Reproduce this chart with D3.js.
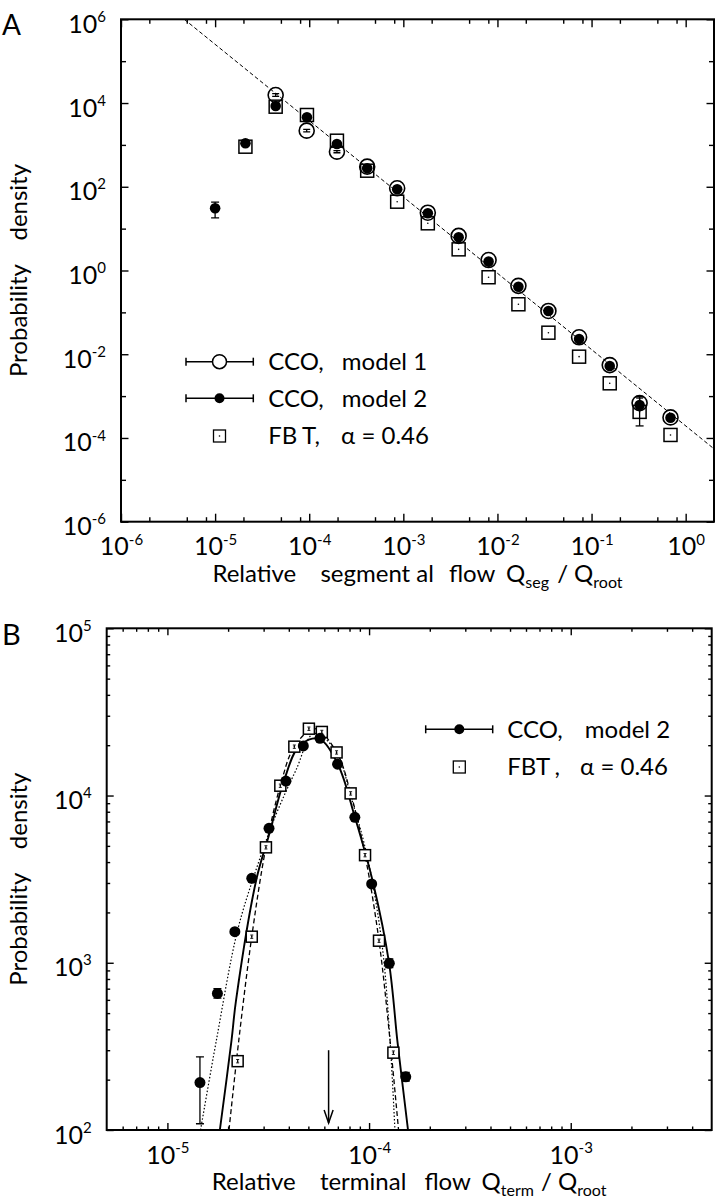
<!DOCTYPE html>
<html><head><meta charset="utf-8">
<script src="https://cdn.jsdelivr.net/npm/d3@7"></script>
<style>
body{margin:0;background:#fff}
svg{display:block;background:#fff}
text{font-family:Lato,"Open Sans",sans-serif;fill:#000}
</style>
</head><body>
<svg id="chart" width="716" height="1200"></svg>
<script>
// ================= DATA =================
// ---- Panel A : relative segmental flow ----
const segFlowM1   = [4.4e-5, 9.4e-5, 1.97e-4, 4.13e-4, 8.6e-4, 1.82e-3, 3.87e-3, 8.05e-3, 1.67e-2, 3.48e-2, 7.37e-2, 0.156, 0.324, 0.69];
const densSegM1   = [15560, 2190, 689, 302, 92, 24, 6.7, 1.78, 0.43, 0.108, 0.0254, 0.0055, 6.8e-4, 3.1e-4];
const errLoSegM1  = [14400, 2040, 650, 288, 88, 23, 6.4, 1.70, 0.41, 0.103, 0.0242, 0.0052, 5.0e-4, 2.9e-4];
const errHiSegM1  = [16800, 2340, 730, 316, 96, 25, 7.0, 1.86, 0.45, 0.113, 0.0266, 0.0058, 9.0e-4, 3.3e-4];

const segFlowM2   = [1.0e-5, 2.1e-5, 4.4e-5, 9.46e-5, 1.97e-4, 4.13e-4, 8.6e-4, 1.82e-3, 3.87e-3, 8.05e-3, 1.67e-2, 3.48e-2, 7.37e-2, 0.156, 0.324, 0.69];
const densSegM2   = [30.6, 1092, 8500, 4570, 1052, 276, 87, 23.3, 6.2, 1.63, 0.41, 0.108, 0.0231, 0.00525, 6.1e-4, 3.05e-4];
const errLoSegM2  = [18, 1000, 7800, 4200, 980, 262, 83, 22.2, 5.9, 1.55, 0.39, 0.102, 0.0218, 0.0047, 1.94e-4, 2.8e-4];
const errHiSegM2  = [43, 1190, 9300, 4950, 1130, 290, 91, 24.4, 6.5, 1.71, 0.43, 0.114, 0.0244, 0.0059, 9.7e-4, 3.3e-4];

const segFlowFBT  = [2.1e-5, 4.4e-5, 9.46e-5, 1.97e-4, 4.13e-4, 8.6e-4, 1.82e-3, 3.87e-3, 8.05e-3, 1.67e-2, 3.48e-2, 7.37e-2, 0.156, 0.324, 0.69];
const densSegFBT  = [906, 8180, 5180, 1260, 242, 44, 13.4, 3.2, 0.69, 0.156, 0.0327, 0.00875, 0.00202, 4.2e-4, 1.18e-4];

const fitSegX     = [4.7e-6, 2];
const fitSegY     = [1e6, 5.5e-5];

const xTicksA      = [1e-6, 1e-5, 1e-4, 1e-3, 1e-2, 1e-1, 1];
const xMinorTicksA = [2e-6,5e-6,8e-6, 2e-5,5e-5,8e-5, 2e-4,5e-4,8e-4, 2e-3,5e-3,8e-3, 2e-2,5e-2,8e-2, 0.2,0.5,0.8];
const yTicksA      = [1e-6, 1e-4, 1e-2, 1, 1e2, 1e4, 1e6];
const yMinorTicksA = [1e-5, 1e-3, 1e-1, 1e1, 1e3, 1e5];

// ---- Panel B : relative terminal flow ----
const termFlowM2  = [1.45e-5, 1.77e-5, 2.16e-5, 2.62e-5, 3.19e-5, 3.87e-5, 4.72e-5, 5.71e-5, 6.98e-5, 8.5e-5, 1.03e-4, 1.26e-4, 1.52e-4];
const densTermM2  = [192, 656, 1534, 3200, 6370, 12200, 19800, 22000, 15400, 7410, 2960, 993, 208];
const errLoTermM2 = [109, 615, 1480, 3120, 6250, 12000, 19500, 21600, 15100, 7250, 2880, 935, 196];
const errHiTermM2 = [274, 700, 1590, 3280, 6490, 12400, 20100, 22400, 15700, 7570, 3040, 1055, 221];

const termFlowFBT  = [2.23e-5, 2.62e-5, 3.08e-5, 3.63e-5, 4.26e-5, 5.03e-5, 5.83e-5, 6.9e-5, 8.1e-5, 9.55e-5, 1.12e-4, 1.32e-4];
const densTermFBT  = [258, 1432, 4900, 11450, 19600, 25100, 24000, 18100, 10300, 4400, 1355, 290];
const errLoTermFBT = [252, 1400, 4790, 11190, 19150, 24520, 23450, 17690, 10060, 4300, 1324, 283];
const errHiTermFBT = [264, 1465, 5010, 11710, 20050, 25680, 24550, 18520, 10540, 4500, 1386, 297];

const fitSolidX  = [1.82e-5, 2.08e-5, 2.19e-5, 2.77e-5, 3.19e-5, 3.78e-5, 4.51e-5, 5.62e-5, 6.98e-5, 8.51e-5, 1.05e-4, 1.256e-4, 1.38e-4, 1.45e-4, 1.56e-4];
const fitSolidY  = [100, 345, 598, 3200, 5800, 12200, 19800, 21900, 15500, 7410, 2960, 998, 345, 208, 100];
const fitDashedX = [2.02e-5, 2.26e-5, 2.62e-5, 3.08e-5, 3.63e-5, 4.26e-5, 5.37e-5, 6.9e-5, 8.11e-5, 9.55e-5, 1.12e-4, 1.27e-4, 1.40e-4];
const fitDashedY = [100, 345, 1432, 4900, 11450, 19600, 25100, 18150, 10300, 4400, 1355, 345, 100];
const fitDottedX = [1.46e-5, 1.75e-5, 2.22e-5, 2.75e-5, 3.45e-5, 4.34e-5, 5.33e-5, 6.78e-5, 8.22e-5, 9.88e-5, 1.16e-4, 1.27e-4, 1.343e-4];
const fitDottedY = [100, 345, 1535, 3590, 7660, 14200, 23500, 18750, 9420, 4120, 1280, 345, 100];

const arrowFlow  = 6.3e-5;
const arrowDens  = [300, 110];

const xTicksB      = [1e-5, 1e-4, 1e-3];
const xMinorTicksB = [6e-6,7e-6,8e-6,9e-6, 2e-5,3e-5,4e-5,5e-5,6e-5,7e-5,8e-5,9e-5, 2e-4,3e-4,4e-4,5e-4,6e-4,7e-4,8e-4,9e-4, 2e-3,3e-3,4e-3];
const yTicksB      = [1e2, 1e3, 1e4, 1e5];
const yMinorTicksB = [200,300,400,500,600,700,800,900, 2e3,3e3,4e3,5e3,6e3,7e3,8e3,9e3, 2e4,3e4,4e4,5e4,6e4,7e4,8e4,9e4];

// ================= DRAWING =================
const svg = d3.select("#chart");

const xA = d3.scaleLog().domain([1e-6, 2]).range([121, 714]);
const yA = d3.scaleLog().domain([1e-6, 1e6]).range([521.7, 19.3]);
const xB = d3.scaleLog().domain([5e-6, 5e-3]).range([106.7, 711.7]);
const yB = d3.scaleLog().domain([1e2, 1e5]).range([1130, 628.3]);

function zip(a, b) { return a.map((v, i) => [v, b[i]]); }

function powLabels(g) {
  g.selectAll(".tick text").each(function(d) {
    const t = d3.select(this);
    const e = Math.round(Math.log10(d));
    t.text(null);
    t.append("tspan").text("10");
    t.append("tspan").attr("font-size", 15).attr("dy", "-0.72em").text(String(e));
  });
}
function styleAxis(g) {
  g.select(".domain").remove();
  g.attr("font-family", null).attr("font-size", 25);
  g.selectAll(".tick line").attr("stroke", "#000").attr("stroke-width", 1.4);
}

function drawFrame(x, y, xMaj, xMin, yMaj, yMin, majLen, minLen, yMajLen, yMinLen) {
  const [x0, x1] = x.range();
  const [y0, y1] = y.range();
  const g = svg.append("g");
  g.append("g").attr("transform", `translate(0,${y0})`)
    .call(d3.axisBottom(x).tickValues(xMaj).tickSize(-majLen).tickPadding(16).tickFormat(d => d))
    .call(styleAxis).call(powLabels);
  g.append("g").attr("transform", `translate(0,${y0})`)
    .call(d3.axisBottom(x).tickValues(xMin).tickSize(-minLen).tickFormat(""))
    .call(styleAxis);
  g.append("g").attr("transform", `translate(0,${y1})`)
    .call(d3.axisTop(x).tickValues(xMaj).tickSize(-majLen).tickFormat(""))
    .call(styleAxis);
  g.append("g").attr("transform", `translate(0,${y1})`)
    .call(d3.axisTop(x).tickValues(xMin).tickSize(-minLen).tickFormat(""))
    .call(styleAxis);
  g.append("g").attr("transform", `translate(${x0},0)`)
    .call(d3.axisLeft(y).tickValues(yMaj).tickSize(-yMajLen).tickPadding(15).tickFormat(d => d))
    .call(styleAxis).call(powLabels)
    .call(a => a.selectAll(".tick text").attr("dy", "0.52em"));
  g.append("g").attr("transform", `translate(${x0},0)`)
    .call(d3.axisLeft(y).tickValues(yMin).tickSize(-yMinLen).tickFormat(""))
    .call(styleAxis);
  g.append("g").attr("transform", `translate(${x1},0)`)
    .call(d3.axisRight(y).tickValues(yMaj).tickSize(-yMajLen).tickFormat(""))
    .call(styleAxis);
  g.append("g").attr("transform", `translate(${x1},0)`)
    .call(d3.axisRight(y).tickValues(yMin).tickSize(-yMinLen).tickFormat(""))
    .call(styleAxis);
  g.append("rect").attr("x", x0).attr("y", y1).attr("width", x1 - x0).attr("height", y0 - y1)
    .attr("fill", "none").attr("stroke", "#000").attr("stroke-width", 2);
}

function clip(id, x, y) {
  svg.append("clipPath").attr("id", id).append("rect")
    .attr("x", x.range()[0]).attr("y", y.range()[1])
    .attr("width", x.range()[1] - x.range()[0]).attr("height", y.range()[0] - y.range()[1]);
}

function errorBars(g, x, y, xs, lo, hi, cap, sw) {
  const d = xs.map((v, i) => ({x: v, lo: lo[i], hi: hi[i]}));
  const eb = g.append("g").attr("stroke", "#000").attr("stroke-width", sw || 1.3);
  eb.selectAll("line.v").data(d).join("line").attr("class", "v")
    .attr("x1", e => x(e.x)).attr("x2", e => x(e.x)).attr("y1", e => y(e.lo)).attr("y2", e => y(e.hi));
  eb.selectAll("line.lo").data(d).join("line").attr("class", "lo")
    .attr("x1", e => x(e.x) - cap).attr("x2", e => x(e.x) + cap).attr("y1", e => y(e.lo)).attr("y2", e => y(e.lo));
  eb.selectAll("line.hi").data(d).join("line").attr("class", "hi")
    .attr("x1", e => x(e.x) - cap).attr("x2", e => x(e.x) + cap).attr("y1", e => y(e.hi)).attr("y2", e => y(e.hi));
}

function squares(g, x, y, pts, side) {
  const s = g.append("g");
  s.selectAll("rect").data(pts).join("rect")
    .attr("x", d => x(d[0]) - side / 2).attr("y", d => y(d[1]) - side / 2)
    .attr("width", side).attr("height", side)
    .attr("fill", "#fff").attr("stroke", "#000").attr("stroke-width", 1.5);
  s.selectAll("circle").data(pts).join("circle")
    .attr("cx", d => x(d[0])).attr("cy", d => y(d[1])).attr("r", 0.8).attr("fill", "#000");
}

// ---------------- Panel A ----------------
clip("clipA", xA, yA);
const plotA = svg.append("g").attr("clip-path", "url(#clipA)");
plotA.append("path")
  .datum(zip(fitSegX, fitSegY))
  .attr("d", d3.line().x(d => xA(d[0])).y(d => yA(d[1])))
  .attr("fill", "none").attr("stroke", "#000").attr("stroke-width", 1).attr("stroke-dasharray", "4,2.5");

squares(plotA, xA, yA, zip(segFlowFBT, densSegFBT), 13);
errorBars(plotA, xA, yA, segFlowM1, errLoSegM1, errHiSegM1, 3.5);
plotA.append("g").selectAll("circle").data(zip(segFlowM1, densSegM1)).join("circle")
  .attr("cx", d => xA(d[0])).attr("cy", d => yA(d[1])).attr("r", 7.5)
  .attr("fill", "none").attr("stroke", "#000").attr("stroke-width", 1.6);
errorBars(plotA, xA, yA, segFlowM2, errLoSegM2, errHiSegM2, 4);
plotA.append("g").selectAll("circle").data(zip(segFlowM2, densSegM2)).join("circle")
  .attr("cx", d => xA(d[0])).attr("cy", d => yA(d[1])).attr("r", 5.3).attr("fill", "#000");

drawFrame(xA, yA, xTicksA, xMinorTicksA, yTicksA, yMinorTicksA, 8, 4.5, 7.5, 5);

// legend A
const legA = svg.append("g");
function legendErrLine(g, x0, x1, yc) {
  g.append("line").attr("x1", x0).attr("x2", x1).attr("y1", yc).attr("y2", yc).attr("stroke", "#000").attr("stroke-width", 1.5);
  [x0, x1].forEach(xx => g.append("line").attr("x1", xx).attr("x2", xx).attr("y1", yc - 4).attr("y2", yc + 4).attr("stroke", "#000").attr("stroke-width", 1.5));
}
legendErrLine(legA, 186, 253.3, 361.7);
legA.append("circle").attr("cx", 219.5).attr("cy", 361.7).attr("r", 7).attr("fill", "#fff").attr("stroke", "#000").attr("stroke-width", 1.5);
legendErrLine(legA, 186, 253.3, 398.3);
legA.append("circle").attr("cx", 219.5).attr("cy", 398.3).attr("r", 5).attr("fill", "#000");
legA.append("rect").attr("x", 213.5).attr("y", 430).attr("width", 12).attr("height", 12).attr("fill", "#fff").attr("stroke", "#000").attr("stroke-width", 1.3);
legA.append("circle").attr("cx", 219.5).attr("cy", 436).attr("r", 0.8).attr("fill", "#000");
function legText(g, x, y, parts) {
  const t = g.append("text").attr("x", x).attr("y", y).attr("font-size", 24);
  parts.forEach(p => { const s = t.append("tspan").text(p.t); if (p.dx) s.attr("dx", p.dx); });
  return t;
}
legText(legA, 268.3, 370, [{t: "CCO,"}, {t: " model 1", dx: 12}]);
legText(legA, 268.3, 407, [{t: "CCO,"}, {t: " model 2", dx: 12}]);
legText(legA, 268.3, 444, [{t: "FB"}, {t: "T,", dx: 5}, {t: " α = 0.46", dx: 15}]);

// labels A
svg.append("text").attr("x", 2).attr("y", 35).attr("font-size", 28).text("A");
{
  const t = svg.append("text").attr("x", (xA.range()[0] + xA.range()[1]) / 2).attr("y", 581.7)
    .attr("text-anchor", "middle").attr("font-size", 24);
  t.append("tspan").text("Relative ");
  t.append("tspan").attr("dx", 18).text("segment");
  t.append("tspan").attr("dx", 6).text("al ");
  t.append("tspan").attr("dx", 9).text("flow ");
  t.append("tspan").attr("dx", 5).text("Q");
  t.append("tspan").attr("font-size", 16).attr("dy", 6).text("seg");
  t.append("tspan").attr("dx", 2).attr("dy", -6).text(" / Q");
  t.append("tspan").attr("font-size", 16).attr("dy", 6).text("root");
}
{
  const t = svg.append("text").attr("transform", `translate(27,${(yA.range()[0] + yA.range()[1]) / 2}) rotate(-90)`)
    .attr("text-anchor", "middle").attr("font-size", 24);
  t.append("tspan").text("Probability ");
  t.append("tspan").attr("dx", 18).text("density");
}

// ---------------- Panel B ----------------
clip("clipB", xB, yB);
const plotB = svg.append("g").attr("clip-path", "url(#clipB)");
const lineB = d3.line().x(d => xB(d[0])).y(d => yB(d[1])).curve(d3.curveCatmullRom.alpha(0.5));
plotB.append("path").datum(zip(fitDottedX, fitDottedY)).attr("d", lineB)
  .attr("fill", "none").attr("stroke", "#000").attr("stroke-width", 1.2).attr("stroke-dasharray", "1.5,2");
plotB.append("path").datum(zip(fitDashedX, fitDashedY)).attr("d", lineB)
  .attr("fill", "none").attr("stroke", "#000").attr("stroke-width", 1.3).attr("stroke-dasharray", "5,3");
plotB.append("path").datum(zip(fitSolidX, fitSolidY)).attr("d", lineB)
  .attr("fill", "none").attr("stroke", "#000").attr("stroke-width", 1.9);

squares(plotB, xB, yB, zip(termFlowFBT, densTermFBT), 11);
errorBars(plotB, xB, yB, termFlowFBT, errLoTermFBT, errHiTermFBT, 1.5, 0.9);
errorBars(plotB, xB, yB, termFlowM2, errLoTermM2, errHiTermM2, 4);
plotB.append("g").selectAll("circle").data(zip(termFlowM2, densTermM2)).join("circle")
  .attr("cx", d => xB(d[0])).attr("cy", d => yB(d[1])).attr("r", 5.5).attr("fill", "#000");

// arrow
{
  const ax = xB(arrowFlow), yTop = yB(arrowDens[0]), yTip = yB(arrowDens[1]);
  plotB.append("line").attr("x1", ax).attr("x2", ax).attr("y1", yTop).attr("y2", yTip).attr("stroke", "#000").attr("stroke-width", 1.5);
  plotB.append("path").attr("d", `M${ax - 4.5},${yTip - 13}L${ax},${yTip}L${ax + 4.5},${yTip - 13}`)
    .attr("fill", "none").attr("stroke", "#000").attr("stroke-width", 1.5);
}

drawFrame(xB, yB, xTicksB, xMinorTicksB, yTicksB, yMinorTicksB, 7, 3.5, 7, 3.5);

// legend B
const legB = svg.append("g");
legendErrLine(legB, 425.7, 492.7, 729.3);
legB.append("circle").attr("cx", 459.3).attr("cy", 729.3).attr("r", 5).attr("fill", "#000");
legB.append("rect").attr("x", 453.3).attr("y", 761).attr("width", 12).attr("height", 12).attr("fill", "#fff").attr("stroke", "#000").attr("stroke-width", 1.3);
legB.append("circle").attr("cx", 459.3).attr("cy", 767).attr("r", 0.8).attr("fill", "#000");
legText(legB, 507.3, 738, [{t: "CCO,"}, {t: " model 2", dx: 16}]);
legText(legB, 507.3, 775, [{t: "FBT"}, {t: ",", dx: 6}, {t: " α = 0.46", dx: 14}]);

// labels B
svg.append("text").attr("x", 2).attr("y", 645).attr("font-size", 29).text("B");
{
  const t = svg.append("text").attr("x", (xB.range()[0] + xB.range()[1]) / 2).attr("y", 1190)
    .attr("text-anchor", "middle").attr("font-size", 24);
  t.append("tspan").text("Relative ");
  t.append("tspan").attr("dx", 18).text("terminal ");
  t.append("tspan").attr("dx", 12).text("flow ");
  t.append("tspan").attr("dx", 5).text("Q");
  t.append("tspan").attr("font-size", 16).attr("dy", 6).text("term");
  t.append("tspan").attr("dx", 1).attr("dy", -6).text(" / Q");
  t.append("tspan").attr("font-size", 16).attr("dy", 6).text("root");
}
{
  const t = svg.append("text").attr("transform", `translate(27,${(yB.range()[0] + yB.range()[1]) / 2}) rotate(-90)`)
    .attr("text-anchor", "middle").attr("font-size", 24);
  t.append("tspan").text("Probability ");
  t.append("tspan").attr("dx", 18).text("density");
}
</script>
</body></html>
